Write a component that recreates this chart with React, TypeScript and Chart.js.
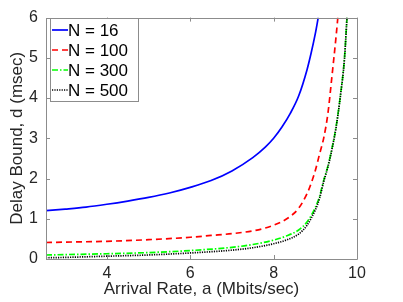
import { useEffect, useRef } from 'react';
import { Chart, registerables } from 'chart.js';

Chart.register(...registerables);

// ---- data ----
const seriesLabels = ['N = 16', 'N = 100', 'N = 300', 'N = 500'];

const rateN16 = [2.54, 3, 3.5, 4, 4.5, 5, 5.5, 6, 6.5, 7, 7.5, 7.8, 8, 8.2, 8.4, 8.6, 8.8, 8.9, 9.0, 9.07];
const delayN16 = [1.2, 1.24, 1.29, 1.36, 1.44, 1.53, 1.64, 1.78, 1.95, 2.19, 2.52, 2.78, 3.0, 3.28, 3.62, 4.05, 4.7, 5.12, 5.6, 6.0];

const rateN100 = [2.54, 3, 4, 5, 6, 6.5, 7, 7.5, 7.8, 8, 8.2, 8.4, 8.6, 8.8, 8.9, 9.0, 9.1, 9.2, 9.3, 9.4, 9.5, 9.54];
const delayN100 = [0.41, 0.42, 0.44, 0.48, 0.54, 0.585, 0.63, 0.7, 0.77, 0.84, 0.93, 1.06, 1.26, 1.62, 1.88, 2.2, 2.6, 3.0, 3.6, 4.55, 5.55, 6.0];

const rateN300 = [2.54, 3, 4, 5, 6, 7, 7.5, 8, 8.3, 8.6, 8.8, 9.0, 9.1, 9.2, 9.3, 9.4, 9.5, 9.6, 9.7, 9.76];
const delayN300 = [0.1, 0.11, 0.13, 0.16, 0.21, 0.29, 0.36, 0.47, 0.57, 0.72, 0.92, 1.28, 1.55, 1.95, 2.3, 2.75, 3.3, 4.05, 5.0, 6.0];

const rateN500 = [2.54, 3, 4, 5, 6, 7, 7.5, 8, 8.3, 8.6, 8.8, 9.0, 9.1, 9.2, 9.3, 9.4, 9.5, 9.6, 9.7, 9.76];
const delayN500 = [0.03, 0.04, 0.07, 0.1, 0.15, 0.22, 0.28, 0.38, 0.47, 0.62, 0.84, 1.22, 1.5, 1.92, 2.28, 2.73, 3.28, 4.03, 4.98, 6.0];

const xTickValues = [4, 6, 8, 10];
const yTickValues = [0, 1, 2, 3, 4, 5, 6];
const xRange = [2.54, 10];
const yRange = [0, 6];

const xTitle = 'Arrival Rate, a (Mbits/sec)';
const yTitle = 'Delay Bound, d (msec)';

const FONT = '"Liberation Sans", Arial, Helvetica, sans-serif';
const AXIS_COLOR = '#8c8c8c';
const TEXT_COLOR = '#262626';

const toPoints = (xs: number[], ys: number[]) => xs.map((x, i) => ({ x, y: ys[i] }));

const boxTicksPlugin = {
  id: 'boxTicks',
  afterDatasetsDraw(chart: any) {
    const { ctx, chartArea } = chart;
    const { left, right, top, bottom } = chartArea;
    const xs = chart.scales.x;
    const ys = chart.scales.y;
    const tl = 4;
    ctx.save();
    ctx.strokeStyle = AXIS_COLOR;
    ctx.lineWidth = 1;
    ctx.setLineDash([]);
    ctx.beginPath();
    ctx.rect(Math.round(left) + 0.5, Math.round(top) + 0.5, Math.round(right - left), Math.round(bottom - top));
    ctx.stroke();
    ctx.beginPath();
    xs.ticks.forEach((t: any) => {
      const px = Math.round(xs.getPixelForValue(t.value)) + 0.5;
      ctx.moveTo(px, bottom);
      ctx.lineTo(px, bottom - tl);
      ctx.moveTo(px, top);
      ctx.lineTo(px, top + tl);
    });
    ys.ticks.forEach((t: any) => {
      const py = Math.round(ys.getPixelForValue(t.value)) + 0.5;
      ctx.moveTo(left, py);
      ctx.lineTo(left + tl, py);
      ctx.moveTo(right, py);
      ctx.lineTo(right - tl, py);
    });
    ctx.stroke();
    ctx.restore();
  },
};

const legendPlugin = {
  id: 'boxLegend',
  afterDraw(chart: any) {
    const { ctx, chartArea } = chart;
    const x0 = Math.round(chartArea.left) + 4;
    const y0 = Math.round(chartArea.top);
    const w = 88;
    const h = 83;
    const rowH = 20;
    ctx.save();
    ctx.fillStyle = '#ffffff';
    ctx.fillRect(x0, y0, w, h);
    ctx.strokeStyle = AXIS_COLOR;
    ctx.lineWidth = 1;
    ctx.setLineDash([]);
    ctx.strokeRect(x0 + 0.5, y0 + 0.5, w, h);
    chart.data.datasets.forEach((ds: any, i: number) => {
      const cy = y0 + 12 + i * rowH;
      ctx.strokeStyle = ds.borderColor;
      ctx.lineWidth = ds.borderWidth;
      ctx.setLineDash(ds.borderDash || []);
      ctx.beginPath();
      ctx.moveTo(x0 + 2, cy);
      ctx.lineTo(x0 + 18, cy);
      ctx.stroke();
      ctx.setLineDash([]);
      ctx.fillStyle = '#000000';
      ctx.font = `17px ${FONT}`;
      ctx.textBaseline = 'middle';
      ctx.textAlign = 'left';
      ctx.fillText(ds.label, x0 + 18, cy + 1);
    });
    ctx.restore();
  },
};

export default function App() {
  const canvasRef = useRef<HTMLCanvasElement | null>(null);

  useEffect(() => {
    if (!canvasRef.current) return;
    const chart = new Chart(canvasRef.current, {
      type: 'line',
      data: {
        datasets: [
          {
            label: seriesLabels[0],
            data: toPoints(rateN16, delayN16),
            borderColor: '#0000ff',
            borderWidth: 1.7,
            pointRadius: 0,
            cubicInterpolationMode: 'monotone',
            order: 3,
          },
          {
            label: seriesLabels[1],
            data: toPoints(rateN100, delayN100),
            borderColor: '#ff0000',
            borderWidth: 1.7,
            borderDash: [6, 4],
            pointRadius: 0,
            cubicInterpolationMode: 'monotone',
            order: 2,
          },
          {
            label: seriesLabels[2],
            data: toPoints(rateN300, delayN300),
            borderColor: '#00ff00',
            borderWidth: 1.7,
            borderDash: [6, 2, 1.5, 2],
            pointRadius: 0,
            cubicInterpolationMode: 'monotone',
            order: 1,
          },
          {
            label: seriesLabels[3],
            data: toPoints(rateN500, delayN500),
            borderColor: '#000000',
            borderWidth: 1.7,
            borderDash: [1.2, 1.2],
            pointRadius: 0,
            cubicInterpolationMode: 'monotone',
            order: 0,
          },
        ] as any,
      },
      options: {
        responsive: false,
        animation: false,
        devicePixelRatio: 1,
        layout: { padding: { top: 13, right: 46, left: 0, bottom: 0 } },
        plugins: {
          legend: { display: false },
          tooltip: { enabled: false },
        },
        scales: {
          x: {
            type: 'linear',
            min: xRange[0],
            max: xRange[1],
            afterBuildTicks: (s: any) => {
              s.ticks = xTickValues.map((v) => ({ value: v }));
            },
            afterFit: (s: any) => {
              s.height = 43;
            },
            grid: { display: false, drawTicks: false },
            border: { display: false },
            ticks: {
              color: TEXT_COLOR,
              font: { family: FONT, size: 16 },
              padding: 5,
              maxRotation: 0,
              autoSkip: false,
              callback: (v: any) => String(v),
            },
            title: {
              display: true,
              text: xTitle,
              color: TEXT_COLOR,
              font: { family: FONT, size: 17 },
              padding: { top: 0, bottom: 2 },
            },
          },
          y: {
            type: 'linear',
            min: yRange[0],
            max: yRange[1],
            afterBuildTicks: (s: any) => {
              s.ticks = yTickValues.map((v) => ({ value: v }));
            },
            afterFit: (s: any) => {
              s.width = 46;
            },
            grid: { display: false, drawTicks: false },
            border: { display: false },
            ticks: {
              color: TEXT_COLOR,
              font: { family: FONT, size: 16 },
              padding: 8,
              autoSkip: false,
              callback: (v: any) => String(v),
            },
            title: {
              display: true,
              text: yTitle,
              color: TEXT_COLOR,
              font: { family: FONT, size: 17 },
              padding: { top: 7, bottom: 0 },
            },
          },
        },
      } as any,
      plugins: [boxTicksPlugin, legendPlugin],
    });
    return () => chart.destroy();
  }, []);

  return (
    <div style={{ position: 'fixed', left: 0, top: 0, width: 403, height: 302, background: '#ffffff' }}>
      <canvas ref={canvasRef} width={403} height={302} style={{ width: 403, height: 302, display: 'block' }} />
    </div>
  );
}
